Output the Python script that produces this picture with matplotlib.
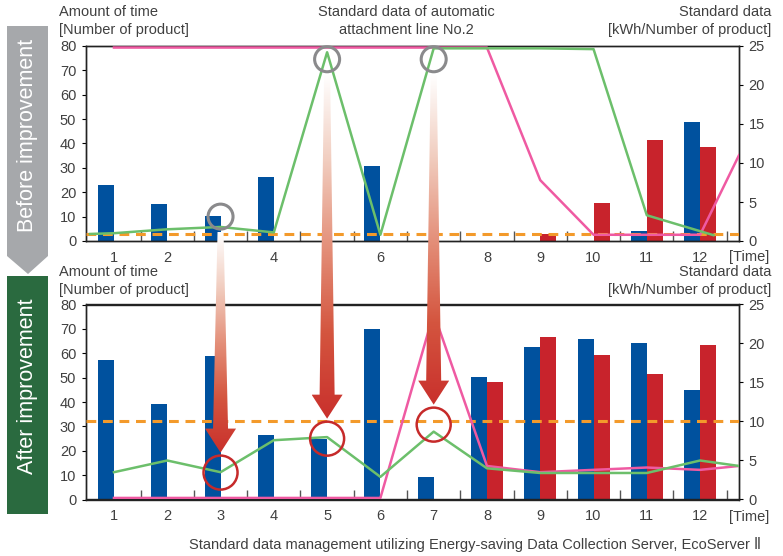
import numpy as np
import matplotlib
matplotlib.use("Agg")
import matplotlib.pyplot as plt
from matplotlib.patches import Polygon, Circle, Rectangle
from matplotlib.colors import LinearSegmentedColormap

plt.rcParams['font.family'] = ['Liberation Sans', 'DejaVu Sans']
plt.rcParams['font.size'] = 10

# categories (time)
cats = np.arange(1, 13)
top_labels = ['1', '2', '', '4', '', '6', '', '8', '9', '10', '11', '12']
bot_labels = [str(c) for c in cats]

# before improvement (left axis: number of product)
blue_before = [23, 15, 10.3, 26.3, 0, 30.8, 0, 0, 0, 0, 4.2, 48.7]
red_before = [0, 0, 0, 0, 0, 0, 0, 0, 2.7, 15.6, 41.3, 38.5]
# before improvement (right axis: kWh / number of product)
green_before_x = [0.55, 1, 2, 3, 4, 5, 6, 7, 8, 9, 10, 11, 12.25]
green_before = [0.9, 1.0, 1.5, 1.8, 1.1, 24.2, 0.8, 24.7, 24.7, 24.7, 24.6, 3.3, 0.75]
pink_before_x = [1, 2, 3, 4, 5, 6, 7, 8, 9, 10, 11, 12, 12.73]
pink_before = [24.8, 24.8, 24.8, 24.8, 24.8, 24.8, 24.8, 24.8, 7.8, 0.8, 0.8, 0.8, 11.0]
std_before = 0.85

# after improvement
blue_after = [57.2, 39.2, 58.9, 26.6, 25.0, 69.9, 9.4, 50.3, 62.5, 65.8, 64.2, 45.0]
red_after = [0, 0, 0, 0, 0, 0, 0, 48.2, 66.6, 59.3, 51.5, 63.4]
line_after_x = [1, 2, 3, 4, 5, 6, 7, 8, 9, 10, 11, 12, 12.73]
green_after = [3.5, 5.0, 3.5, 7.6, 8.0, 2.9, 8.7, 4.0, 3.4, 3.4, 3.4, 5.0, 4.3]
pink_after = [0.2, 0.2, 0.2, 0.2, 0.2, 0.2, 23.9, 4.3, 3.5, 3.8, 4.1, 3.8, 4.3]
std_after = 10.0

BLUE = '#00519e'
RED = '#c8232c'
GREEN = '#6cbf6b'
PINK = '#ef5aa2'
ORANGE = '#f39a2b'
TXT = '#404040'

W, H = 783, 556
fig = plt.figure(figsize=(W / 100, H / 100), dpi=100)


def fx(x, y):
    return x / W, 1 - y / H


def panel(top_px, labels, blue, red, gx, gy, px_, py, std):
    ax = fig.add_axes([86 / W, 1 - (top_px + 195) / H, 653 / W, 195 / H])
    ax.bar(cats - 0.3, blue, 0.3, align='edge', color=BLUE, zorder=2)
    ax.bar(cats, red, 0.3, align='edge', color=RED, zorder=2)
    ax.set_xlim(0.475, 12.73)
    ax.set_ylim(0, 80)
    ax.set_yticks(range(0, 81, 10))
    ax.set_xticks(cats)
    ax.set_xticklabels(labels)
    ax.set_xticks(np.arange(1.5, 12.6, 1), minor=True)
    ax.tick_params(axis='x', which='major', length=0, pad=7, labelsize=10.5, labelcolor=TXT)
    ax.tick_params(axis='x', which='minor', direction='in', length=7, width=1, color='#555555')
    ax.tick_params(axis='y', length=3, width=0.8, pad=4, labelsize=10.5, labelcolor=TXT)
    ax2 = ax.twinx()
    ax2.set_ylim(0, 25)
    ax2.set_yticks(range(0, 26, 5))
    ax2.tick_params(axis='y', length=3, width=0.8, pad=4, labelsize=10.5, labelcolor=TXT)
    ax2.axhline(std, color=ORANGE, lw=2.2, ls=(0, (3.2, 2.2)), zorder=3)
    ax2.plot(px_, py, color=PINK, lw=1.8, zorder=4)
    ax2.plot(gx, gy, color=GREEN, lw=1.8, zorder=5)
    for a in (ax, ax2):
        for s in a.spines.values():
            s.set_linewidth(1.0)
            s.set_color('#222222')
    return ax, ax2


ax1, ax1r = panel(46, top_labels, blue_before, red_before,
                  green_before_x, green_before, pink_before_x, pink_before, std_before)
ax3, ax3r = panel(304.5, bot_labels, blue_after, red_after,
                  line_after_x, green_after, line_after_x, pink_after, std_after)

# header texts
hs = 10.5
for y0 in (12, 272):
    fig.text(*fx(59, y0), 'Amount of time', ha='left', va='center', color=TXT, fontsize=hs)
    fig.text(*fx(59, y0 + 18), '[Number of product]', ha='left', va='center', color=TXT, fontsize=hs)
    fig.text(*fx(771, y0), 'Standard data', ha='right', va='center', color=TXT, fontsize=hs)
    fig.text(*fx(771, y0 + 18), '[kWh/Number of product]', ha='right', va='center', color=TXT, fontsize=hs)
fig.text(*fx(406, 12), 'Standard data of automatic', ha='center', va='center', color=TXT, fontsize=hs)
fig.text(*fx(406, 30), 'attachment line No.2', ha='center', va='center', color=TXT, fontsize=hs)
for y0 in (257, 517):
    fig.text(*fx(749, y0), '[Time]', ha='center', va='center', color=TXT, fontsize=hs)
fig.text(*fx(475, 545), 'Standard data management utilizing Energy-saving Data Collection Server, EcoServer \u2161',
         ha='center', va='center', color=TXT, fontsize=hs)

# overlay in pixel coordinates (y downwards)
ov = fig.add_axes([0, 0, 1, 1], zorder=10)
ov.patch.set_alpha(0)
ov.axis('off')

# side banners
ov.add_patch(Polygon([(7, 26), (48, 26), (48, 256), (28, 274), (7, 256)], closed=True,
                     fc='#a6a8ab', ec='none'))
ov.add_patch(Rectangle((7, 276), 41, 238, fc='#2a6a3f', ec='none'))
ov.text(27.5, 135, 'Before improvement', rotation=90, ha='center', va='center',
        color='white', fontsize=15.5)
ov.text(27.5, 386, 'After improvement', rotation=90, ha='center', va='center',
        color='white', fontsize=15.5)


def to_px(a, x, y):
    dx, dy = a.transData.transform((x, y))
    return dx, H - dy


arrow_cmap = LinearSegmentedColormap.from_list(
    'arr', ['#ffffff', '#f1cdbf', '#e4907a', '#d4553f', '#c9302c'])


def grad_arrow(xc, y0, y1, w0, w1, hw, hl):
    pts = [(xc - w0 / 2, y0), (xc + w0 / 2, y0), (xc + w1 / 2, y1 - hl), (xc + hw / 2, y1 - hl),
           (xc, y1), (xc - hw / 2, y1 - hl), (xc - w1 / 2, y1 - hl)]
    poly = Polygon(pts, closed=True, fc='none', ec='none')
    ov.add_patch(poly)
    grad = np.linspace(0, 1, 256).reshape(-1, 1)
    im = ov.imshow(grad, cmap=arrow_cmap, extent=(xc - hw / 2, xc + hw / 2, y1, y0),
                   origin='upper', aspect='auto', zorder=6, interpolation='bilinear')
    im.set_clip_path(poly)


top_marks = [to_px(ax1, 3, 10), to_px(ax1r, 5, 23.3), to_px(ax1r, 7, 23.3)]
bot_marks = [to_px(ax3r, 3, 3.45), to_px(ax3r, 5, 7.8), to_px(ax3r, 7, 9.6)]

for (tx, ty), (bx, by) in zip(top_marks, bot_marks):
    grad_arrow(bx, ty + 15, by - 20, 6, 15, 31, 24)
for (tx, ty) in top_marks:
    ov.add_patch(Circle((tx, ty), 12.5, fc='none', ec='#8a8a8c', lw=2.2, zorder=7))
for (bx, by) in bot_marks:
    ov.add_patch(Circle((bx, by), 17, fc='none', ec='#c62a2a', lw=1.8, zorder=7))

ov.set_xlim(0, W)
ov.set_ylim(H, 0)

fig.savefig('out.png', dpi=100)
